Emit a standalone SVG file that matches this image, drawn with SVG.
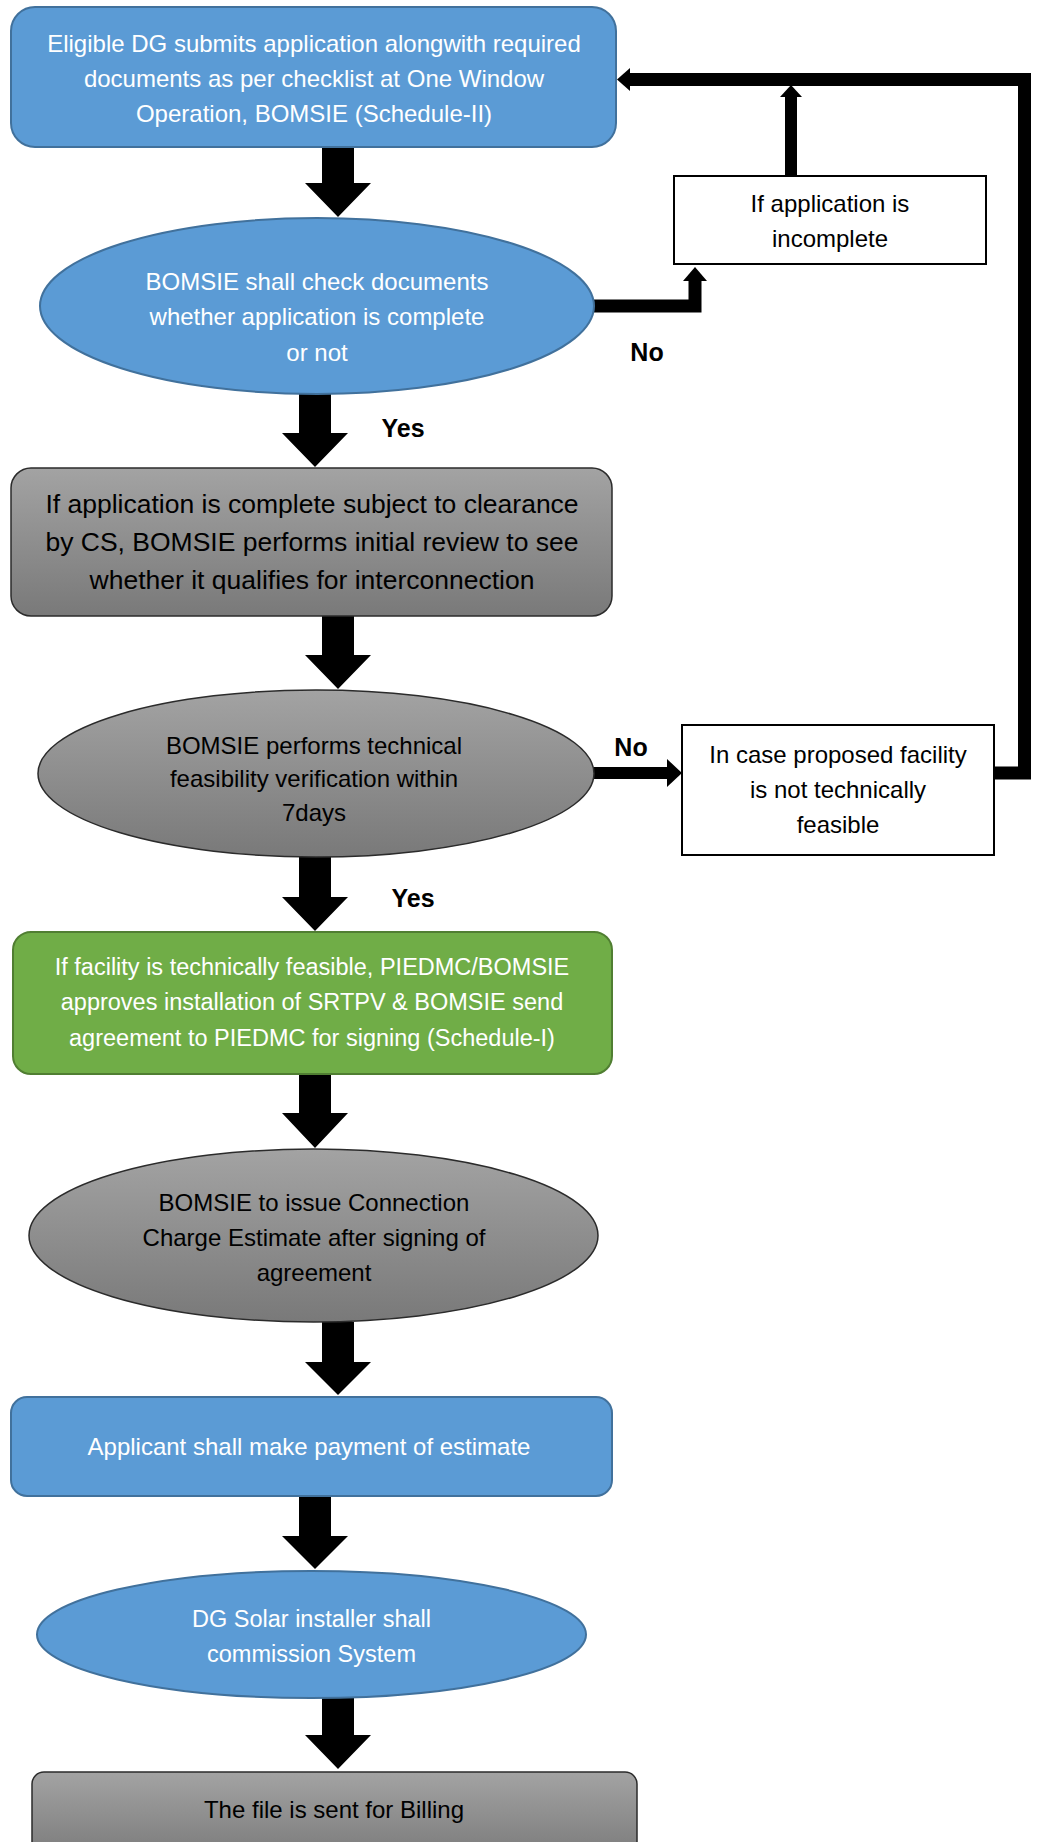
<svg xmlns="http://www.w3.org/2000/svg" width="1040" height="1842" viewBox="0 0 1040 1842">
<defs>
<linearGradient id="gray" x1="0" y1="0" x2="0" y2="1">
<stop offset="0" stop-color="#a3a3a3"/>
<stop offset="1" stop-color="#797979"/>
</linearGradient>
<style>
.blue{fill:#5b9bd5;stroke:#41719c;stroke-width:2}
.green{fill:#70ad47;stroke:#507e32;stroke-width:2}
.gray{fill:url(#gray);stroke:#2b2b2b;stroke-width:1.5}
.plain{fill:#ffffff;stroke:#000000;stroke-width:2}
text{font-family:"Liberation Sans",Arial,sans-serif;text-anchor:middle}
.w{fill:#ffffff;font-size:24px}
.w23{fill:#ffffff;font-size:23.5px}
.k{fill:#000000;font-size:24px}
.k27{fill:#000000;font-size:26.5px}
.lab{fill:#000000;font-size:25px;font-weight:bold}
.arr{fill:#000000}
.ln{fill:none;stroke:#000000;stroke-linejoin:miter}
</style>
</defs>
<rect width="1040" height="1842" fill="#ffffff"/>

<g id="connectors">
<polygon class="arr" points="322,146 354,146 354,183 371,183 338,217 305,183 322,183"/>
<polygon class="arr" points="299,394 331,394 331,433 348,433 315,467 282,433 299,433"/>
<polygon class="arr" points="322,616 354,616 354,655 371,655 338,689 305,655 322,655"/>
<polygon class="arr" points="299,857 331,857 331,897 348,897 315,931 282,897 299,897"/>
<polygon class="arr" points="299,1074 331,1074 331,1113 348,1113 315,1148 282,1113 299,1113"/>
<polygon class="arr" points="322,1322 354,1322 354,1362 371,1362 338,1395 305,1362 322,1362"/>
<polygon class="arr" points="299,1496 331,1496 331,1536 348,1536 315,1569 282,1536 299,1536"/>
<polygon class="arr" points="322,1698 354,1698 354,1735 371,1735 338,1769 305,1735 322,1735"/>
<polyline class="ln" stroke-width="13" points="592,306 695,306 695,280"/>
<polygon class="arr" points="683,281 707,281 695,267"/>
<line class="ln" stroke-width="12" x1="791" y1="176" x2="791" y2="96"/>
<polygon class="arr" points="780,97 802,97 791,85"/>
<polyline class="ln" stroke-width="13" points="994,773 1024.5,773 1024.5,79.5 629,79.5"/>
<polygon class="arr" points="630,68 630,91 617,79.5"/>
<line class="ln" stroke-width="12" x1="593" y1="773" x2="668" y2="773"/>
<polygon class="arr" points="667,759 667,787 682,773"/>
<text class="lab" x="647" y="361">No</text>
<text class="lab" x="403" y="437">Yes</text>
<text class="lab" x="631" y="756">No</text>
<text class="lab" x="413" y="907">Yes</text>
</g>

<g id="n1">
<rect class="blue" x="11" y="7" width="605" height="140" rx="24"/>
<text class="w" x="314" y="52">Eligible DG submits application alongwith required</text>
<text class="w" x="314" y="87">documents as per checklist at One Window</text>
<text class="w" x="314" y="122">Operation, BOMSIE (Schedule-II)</text>
</g>

<g id="n2">
<ellipse class="blue" cx="317" cy="306" rx="277" ry="88"/>
<text class="w" x="317" y="290">BOMSIE shall check documents</text>
<text class="w" x="317" y="325">whether application is complete</text>
<text class="w" x="317" y="361">or not</text>
</g>

<g id="n3">
<rect class="plain" x="674" y="176" width="312" height="88"/>
<text class="k" x="830" y="212">If application is</text>
<text class="k" x="830" y="247">incomplete</text>
</g>

<g id="n4">
<rect class="gray" x="11" y="468" width="601" height="148" rx="20"/>
<text class="k27" x="312" y="513">If application is complete subject to clearance</text>
<text class="k27" x="312" y="551">by CS, BOMSIE performs initial review to see</text>
<text class="k27" x="312" y="589">whether it qualifies for interconnection</text>
</g>

<g id="n5">
<ellipse class="gray" cx="316" cy="773.5" rx="278" ry="83.5"/>
<text class="k" x="314" y="754">BOMSIE performs technical</text>
<text class="k" x="314" y="787">feasibility verification within</text>
<text class="k" x="314" y="821">7days</text>
</g>

<g id="n6">
<rect class="plain" x="682" y="725" width="312" height="130"/>
<text class="k" x="838" y="763">In case proposed facility</text>
<text class="k" x="838" y="798">is not technically</text>
<text class="k" x="838" y="833">feasible</text>
</g>

<g id="n7">
<rect class="green" x="13" y="932" width="599" height="142" rx="18"/>
<text class="w23" x="312" y="975">If facility is technically feasible, PIEDMC/BOMSIE</text>
<text class="w23" x="312" y="1010">approves installation of SRTPV &amp; BOMSIE send</text>
<text class="w23" x="312" y="1046">agreement to PIEDMC for signing (Schedule-I)</text>
</g>

<g id="n8">
<ellipse class="gray" cx="313.5" cy="1235.5" rx="284.5" ry="86.5"/>
<text class="k" x="314" y="1211">BOMSIE to issue Connection</text>
<text class="k" x="314" y="1246">Charge Estimate after signing of</text>
<text class="k" x="314" y="1281">agreement</text>
</g>

<g id="n9">
<rect class="blue" x="11" y="1397" width="601" height="99" rx="16"/>
<text class="w" x="309" y="1455">Applicant shall make payment of estimate</text>
</g>

<g id="n10">
<ellipse class="blue" cx="311.5" cy="1634.5" rx="274.5" ry="63.5"/>
<text class="w23" x="311.5" y="1627">DG Solar installer shall</text>
<text class="w23" x="311.5" y="1662">commission System</text>
</g>

<g id="n11">
<rect class="gray" x="32" y="1772" width="605" height="90" rx="12"/>
<text class="k" x="334" y="1818">The file is sent for Billing</text>
</g>
</svg>
